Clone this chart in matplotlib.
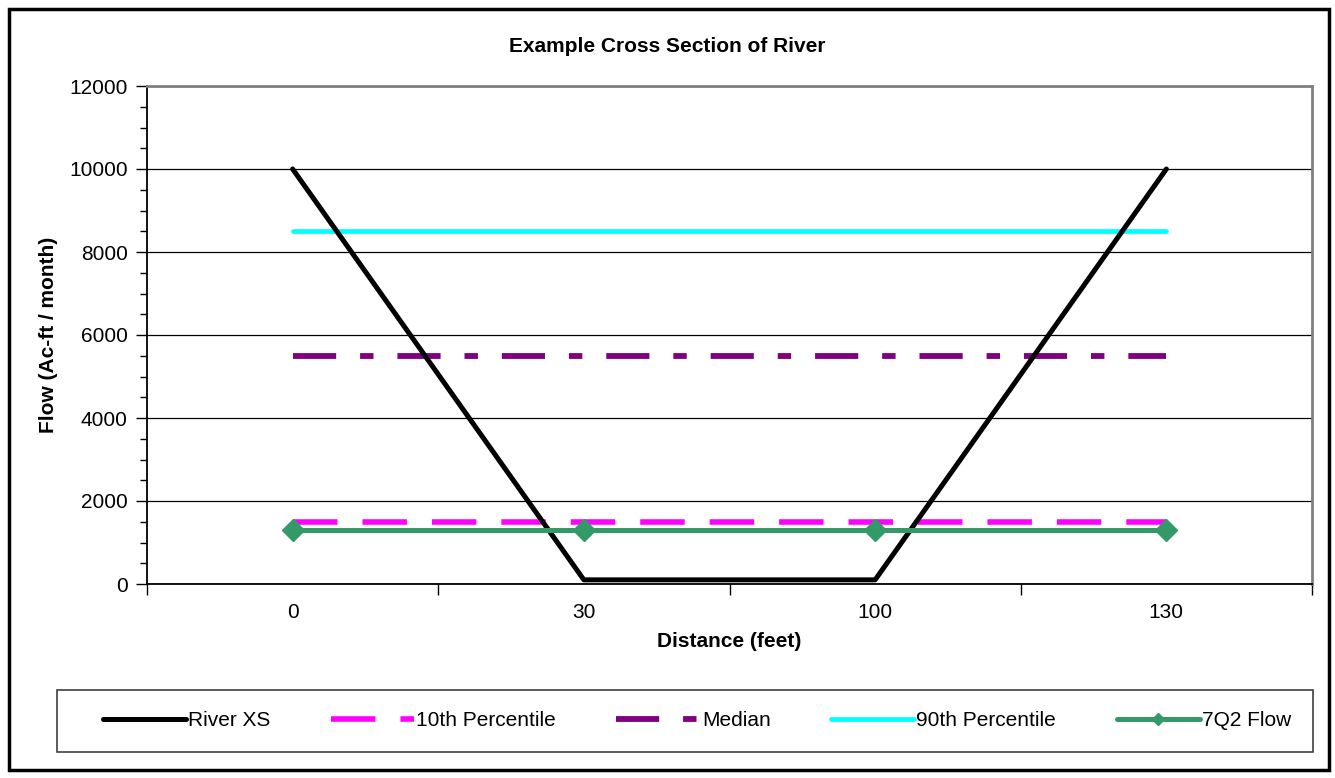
import matplotlib.pyplot as plt
import matplotlib.patches as mpatches
import numpy as np

plt.rcParams['font.family'] = ['Liberation Sans', 'DejaVu Sans']

# data
distance_labels = ["0", "30", "100", "130"]
river_xs = [10000, 100, 100, 10000]
pct10 = [1500, 1500, 1500, 1500]
median = [5500, 5500, 5500, 5500]
pct90 = [8500, 8500, 8500, 8500]
flow_7q2 = [1300, 1300, 1300, 1300]

fig = plt.figure(figsize=(13.35, 7.78), dpi=100)
ax = fig.add_axes([147/1335, 1 - 584/778, (1312 - 147)/1335, (584 - 86)/778])

x = np.arange(len(distance_labels))

ax.plot(x, river_xs, color="black", lw=3.6, solid_capstyle="round", zorder=4, label="River XS")
ax.plot(x, pct10, color="#FF00FF", lw=4, dashes=(8, 4.5), dash_capstyle="butt", zorder=3, label="10th Percentile")
ax.plot(x, median, color="#800080", lw=4.2, dashes=(7.4, 4.1, 2.3, 4.1), dash_capstyle="butt", zorder=3, label="Median")
ax.plot(x, pct90, color="#00FFFF", lw=3.4, solid_capstyle="round", zorder=3, label="90th Percentile")
ax.plot(x, flow_7q2, color="#339966", lw=3.6, marker="D", ms=11, solid_capstyle="round", zorder=5, label="7Q2 Flow")

ax.set_xlim(-0.5, len(distance_labels) - 0.5)
ax.set_ylim(0, 12000)

# category ticks on boundaries, labels in the middle
ax.set_xticks(np.arange(-0.5, len(distance_labels), 1.0))
ax.set_xticklabels([])
ax.set_xticks(x, minor=True)
ax.set_xticklabels(distance_labels, minor=True, fontsize=15)
ax.tick_params(axis="x", which="major", direction="out", length=8, width=1, color="black")
ax.tick_params(axis="x", which="minor", length=0, pad=14)

ax.set_yticks(np.arange(0, 12001, 2000))
ax.set_yticks(np.arange(0, 12001, 500), minor=True)
ax.tick_params(axis="y", which="major", direction="out", length=8, width=1, labelsize=15, pad=6)
ax.tick_params(axis="y", which="minor", direction="out", length=5, width=1)

ax.grid(axis="y", which="major", color="black", lw=0.9)
ax.set_axisbelow(True)

ax.spines["left"].set_color("black")
ax.spines["bottom"].set_color("black")
ax.spines["left"].set_linewidth(1.3)
ax.spines["bottom"].set_linewidth(1.3)
ax.spines["top"].set_color("#808080")
ax.spines["right"].set_color("#808080")
ax.spines["top"].set_linewidth(2)
ax.spines["right"].set_linewidth(2)

ax.set_xlabel("Distance (feet)", fontsize=15, fontweight="bold")
ax.xaxis.set_label_coords(0.5, -0.097)
ax.set_ylabel("Flow (Ac-ft / month)", fontsize=15, fontweight="bold")
ax.yaxis.set_label_coords(-0.076, 0.5)

fig.text(0.5, 1 - 46/778, "Example Cross Section of River", ha="center", va="center",
         fontsize=15, fontweight="bold")

# legend entries sit a little right of the box centre, like the original
leg = fig.legend(loc="center", bbox_to_anchor=(69/1335, 1 - 752/778, (1313 - 57)/1335, 62/778),
                 ncol=5, fontsize=15, frameon=False,
                 handlelength=4, handletextpad=0.1, columnspacing=2.9, markerscale=0.6, borderaxespad=0)

fig.patches.append(mpatches.Rectangle((57/1335, 1 - 752/778), (1313 - 57)/1335, 62/778,
                                      transform=fig.transFigure, fill=False, edgecolor="#404040", lw=1.2))
fig.patches.append(mpatches.Rectangle((9/1335, 1 - 770/778), (1329 - 9)/1335, (770 - 9)/778,
                                      transform=fig.transFigure, fill=False, edgecolor="black", lw=2.5))

fig.savefig("out.png", dpi=100)
